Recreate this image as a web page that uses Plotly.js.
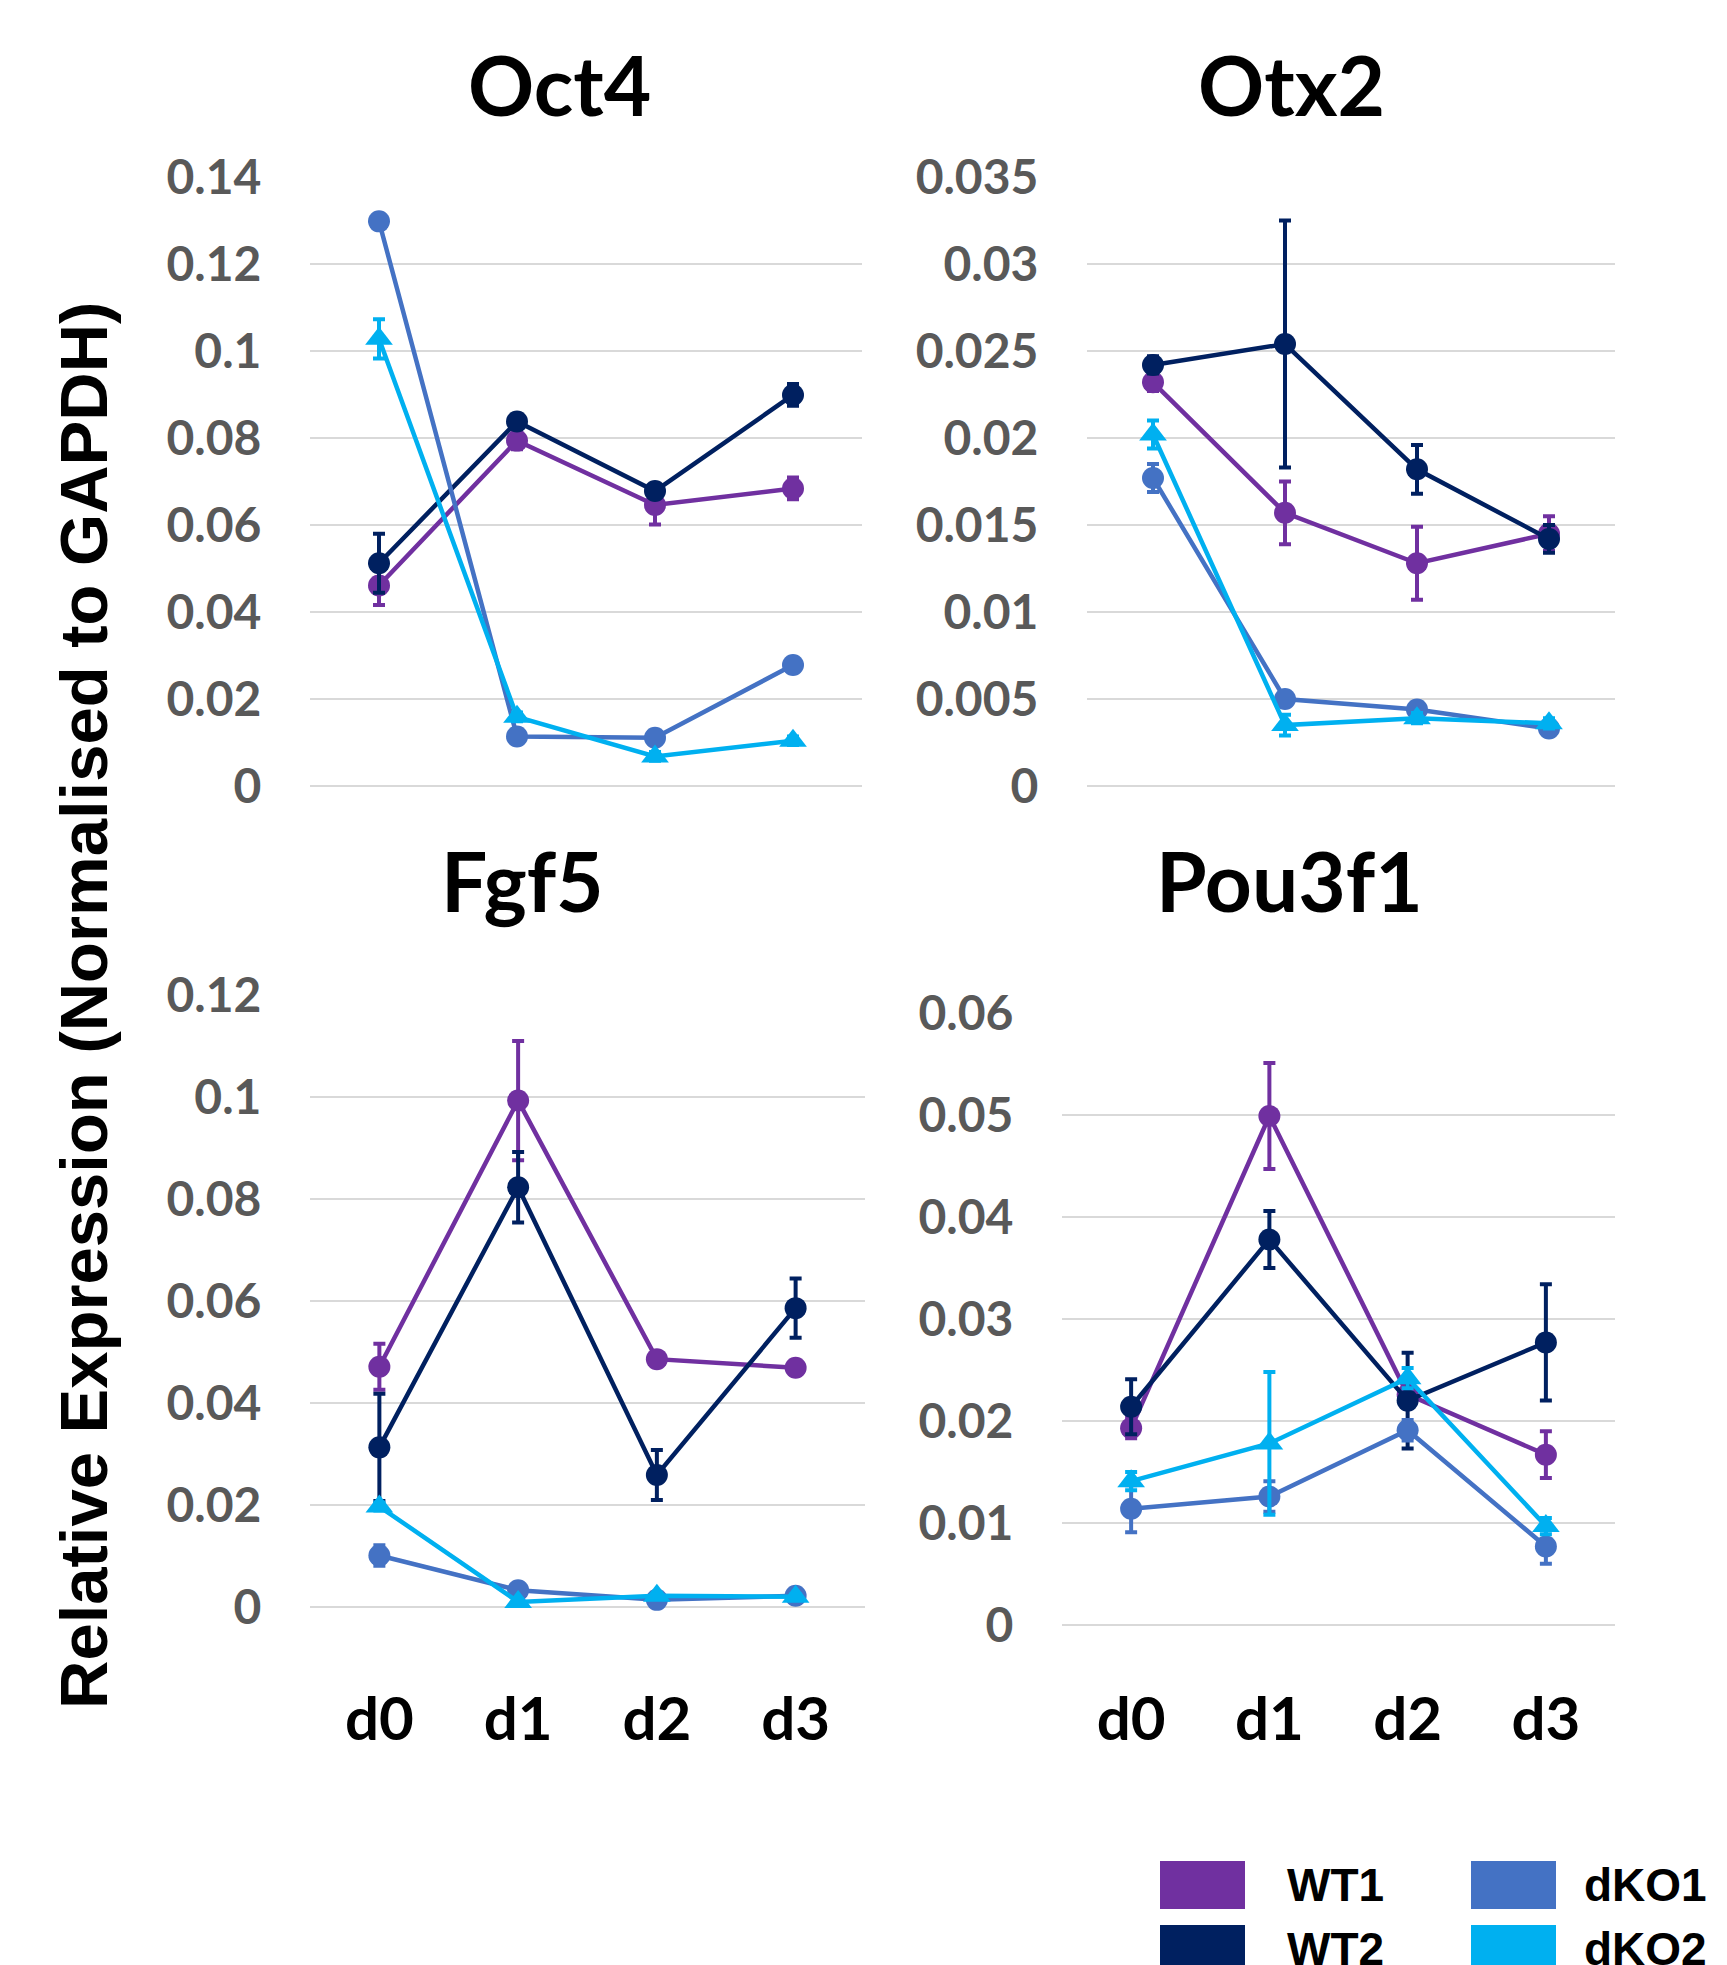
<!DOCTYPE html>
<html>
<head>
<meta charset="utf-8">
<script src="https://cdn.plot.ly/plotly-3.0.1.min.js"></script>
<style>
html,body{margin:0;padding:0;background:#fff;}
#chart{width:1727px;height:1965px;}
</style>
</head>
<body>
<div id="chart"></div>
<script>
// ---------- data ----------
const days = ['d0', 'd1', 'd2', 'd3'];
const seriesNames = ['WT1', 'WT2', 'dKO1', 'dKO2'];
const seriesColors = ['#7030A0', '#002060', '#4472C4', '#00B0F0'];
const genes = ['Oct4', 'Otx2', 'Fgf5', 'Pou3f1'];
const yAxisTitle = 'Relative Expression (Normalised to GAPDH)';

// Oct4
const oct4_WT1 = [0.0461, 0.0794, 0.0646, 0.0684];
const oct4_WT1_err = [0.0045, 0.0020, 0.0045, 0.0025];
const oct4_WT2 = [0.0512, 0.0838, 0.0678, 0.0899];
const oct4_WT2_err = [0.0068, 0.0010, 0.0010, 0.0025];
const oct4_dKO1 = [0.1298, 0.0114, 0.0111, 0.0278];
const oct4_dKO1_err = [0.0010, 0.0010, 0.0010, 0.0010];
const oct4_dKO2 = [0.1028, 0.0159, 0.0068, 0.0104];
const oct4_dKO2_err = [0.0045, 0.0010, 0.0010, 0.0010];

// Otx2
const otx2_WT1 = [0.0232, 0.0157, 0.0128, 0.0145];
const otx2_WT1_err = [0.0005, 0.0018, 0.0021, 0.0010];
const otx2_WT2 = [0.0242, 0.0254, 0.0182, 0.0142];
const otx2_WT2_err = [0.0005, 0.0071, 0.0014, 0.0008];
const otx2_dKO1 = [0.0177, 0.0050, 0.0044, 0.0033];
const otx2_dKO1_err = [0.0008, 0.0003, 0.0003, 0.0003];
const otx2_dKO2 = [0.0202, 0.0035, 0.0039, 0.0036];
const otx2_dKO2_err = [0.0008, 0.0006, 0.0003, 0.0003];

// Fgf5
const fgf5_WT1 = [0.0471, 0.0993, 0.0486, 0.0469];
const fgf5_WT1_err = [0.0045, 0.0117, 0.0010, 0.0010];
const fgf5_WT2 = [0.0313, 0.0823, 0.0259, 0.0586];
const fgf5_WT2_err = [0.0105, 0.0069, 0.0049, 0.0058];
const fgf5_dKO1 = [0.0101, 0.0033, 0.0014, 0.0022];
const fgf5_dKO1_err = [0.0020, 0.0005, 0.0005, 0.0005];
const fgf5_dKO2 = [0.0197, 0.0010, 0.0022, 0.0020];
const fgf5_dKO2_err = [0.0008, 0.0005, 0.0005, 0.0005];

// Pou3f1
const pou3f1_WT1 = [0.0193, 0.0499, 0.0226, 0.0167];
const pou3f1_WT1_err = [0.0010, 0.0052, 0.0010, 0.0023];
const pou3f1_WT2 = [0.0214, 0.0378, 0.0220, 0.0277];
const pou3f1_WT2_err = [0.0027, 0.0028, 0.0047, 0.0057];
const pou3f1_dKO1 = [0.0114, 0.0126, 0.0191, 0.0077];
const pou3f1_dKO1_err = [0.0023, 0.0015, 0.0010, 0.0017];
const pou3f1_dKO2 = [0.0141, 0.0178, 0.0242, 0.0097];
const pou3f1_dKO2_err = [0.0009, 0.0070, 0.0010, 0.0008];

const yRanges = [[0, 0.14], [0, 0.035], [0, 0.12], [0, 0.06]];
const yDticks = [0.02, 0.005, 0.02, 0.01];

// ---------- build ----------
const W = 1727, H = 1965;
const px = v => v / W;
const py = v => 1 - v / H;

const geneData = [
  [[oct4_WT1, oct4_WT1_err], [oct4_WT2, oct4_WT2_err], [oct4_dKO1, oct4_dKO1_err], [oct4_dKO2, oct4_dKO2_err]],
  [[otx2_WT1, otx2_WT1_err], [otx2_WT2, otx2_WT2_err], [otx2_dKO1, otx2_dKO1_err], [otx2_dKO2, otx2_dKO2_err]],
  [[fgf5_WT1, fgf5_WT1_err], [fgf5_WT2, fgf5_WT2_err], [fgf5_dKO1, fgf5_dKO1_err], [fgf5_dKO2, fgf5_dKO2_err]],
  [[pou3f1_WT1, pou3f1_WT1_err], [pou3f1_WT2, pou3f1_WT2_err], [pou3f1_dKO1, pou3f1_dKO1_err], [pou3f1_dKO2, pou3f1_dKO2_err]]
];

// panel boxes in pixels: [left, right, top, bottom]
const boxes = [
  [310, 862, 177, 786],
  [1087, 1615, 177, 786],
  [310, 865, 995, 1607],
  [1062, 1615, 1013, 1625]
];
const xTickLens = [0, 0, 60, 42];
const titlePos = [[559, 84], [1291, 84], [522, 880], [1289, 880]];
const symbols = ['circle', 'circle', 'circle', 'triangle-up'];

const traces = [];
genes.forEach((g, gi) => {
  const sfx = gi === 0 ? '' : String(gi + 1);
  geneData[gi].forEach((sd, si) => {
    traces.push({
      type: 'scatter',
      mode: 'lines+markers',
      x: days,
      y: sd[0],
      xaxis: 'x' + sfx,
      yaxis: 'y' + sfx,
      name: seriesNames[si],
      showlegend: false,
      cliponaxis: false,
      line: {color: seriesColors[si], width: 4.5},
      marker: {color: seriesColors[si], size: symbols[si] === 'circle' ? 22 : 24, symbol: symbols[si]},
      error_y: {type: 'data', array: sd[1], visible: true, color: seriesColors[si], thickness: 4, width: 6}
    });
  });
});

const layout = {
  width: W, height: H,
  margin: {l: 0, r: 0, t: 0, b: 0},
  paper_bgcolor: '#ffffff',
  plot_bgcolor: '#ffffff',
  showlegend: false,
  annotations: [],
  shapes: []
};

const tickFont = {family: 'Lato, "Open Sans", sans-serif', size: 48, color: '#595959', weight: 'bold'};
const xFont = {family: 'Lato, "Open Sans", sans-serif', size: 60, color: '#000000', weight: 'bold'};

genes.forEach((g, gi) => {
  const sfx = gi === 0 ? '' : String(gi + 1);
  const b = boxes[gi];
  const bottomRow = gi >= 2;
  layout['xaxis' + sfx] = {
    domain: [px(b[0]), px(b[1])],
    anchor: 'y' + sfx,
    type: 'category',
    categoryorder: 'array',
    categoryarray: days,
    range: [-0.5, 3.5],
    showgrid: false,
    zeroline: false,
    showline: false,
    showticklabels: bottomRow,
    ticks: bottomRow ? 'outside' : '',
    ticklen: xTickLens[gi],
    tickcolor: 'rgba(0,0,0,0)',
    tickfont: xFont,
    fixedrange: true
  };
  layout['yaxis' + sfx] = {
    domain: [py(b[3]), py(b[2])],
    anchor: 'x' + sfx,
    range: yRanges[gi],
    dtick: yDticks[gi],
    tick0: 0,
    showgrid: true,
    gridcolor: '#D9D9D9',
    gridwidth: 2,
    zeroline: true,
    zerolinecolor: '#D9D9D9',
    zerolinewidth: 2,
    showline: false,
    ticks: 'outside',
    ticklen: 38,
    tickcolor: 'rgba(0,0,0,0)',
    tickfont: tickFont,
    fixedrange: true
  };
  layout.annotations.push({
    text: g,
    xref: 'paper', yref: 'paper',
    x: px(titlePos[gi][0]), y: py(titlePos[gi][1]),
    xanchor: 'center', yanchor: 'middle',
    showarrow: false,
    font: {family: 'Lato, "Open Sans", sans-serif', size: 82, color: '#000000', weight: 'bold'}
  });
});

// y-axis title
layout.annotations.push({
  text: yAxisTitle,
  xref: 'paper', yref: 'paper',
  x: px(83), y: py(1006),
  xanchor: 'center', yanchor: 'middle',
  textangle: -90,
  showarrow: false,
  font: {family: '"Liberation Sans", Arial, sans-serif', size: 67, color: '#000000', weight: 'bold'}
});

// legend (swatches + labels), 2 columns x 2 rows: WT1 dKO1 / WT2 dKO2
const legCols = [[1160, 1285], [1471, 1582]];
const legRows = [1861, 1925];
seriesNames.forEach((nm, si) => {
  const col = si < 2 ? 0 : 1;
  const row = si % 2;
  const top = legRows[row];
  layout.shapes.push({
    type: 'rect', xref: 'paper', yref: 'paper',
    x0: px(legCols[col][0]), x1: px(legCols[col][0] + 85),
    y0: py(top + 48), y1: py(top),
    fillcolor: seriesColors[si], line: {width: 0}
  });
  layout.annotations.push({
    text: nm,
    xref: 'paper', yref: 'paper',
    x: px(legCols[col][1]), y: py(top + 24),
    xanchor: 'left', yanchor: 'middle',
    showarrow: false,
    font: {family: '"Liberation Sans", Arial, sans-serif', size: 46, color: '#000000', weight: 'bold'}
  });
});

Plotly.newPlot('chart', traces, layout, {staticPlot: true, displayModeBar: false});
</script>
</body>
</html>
